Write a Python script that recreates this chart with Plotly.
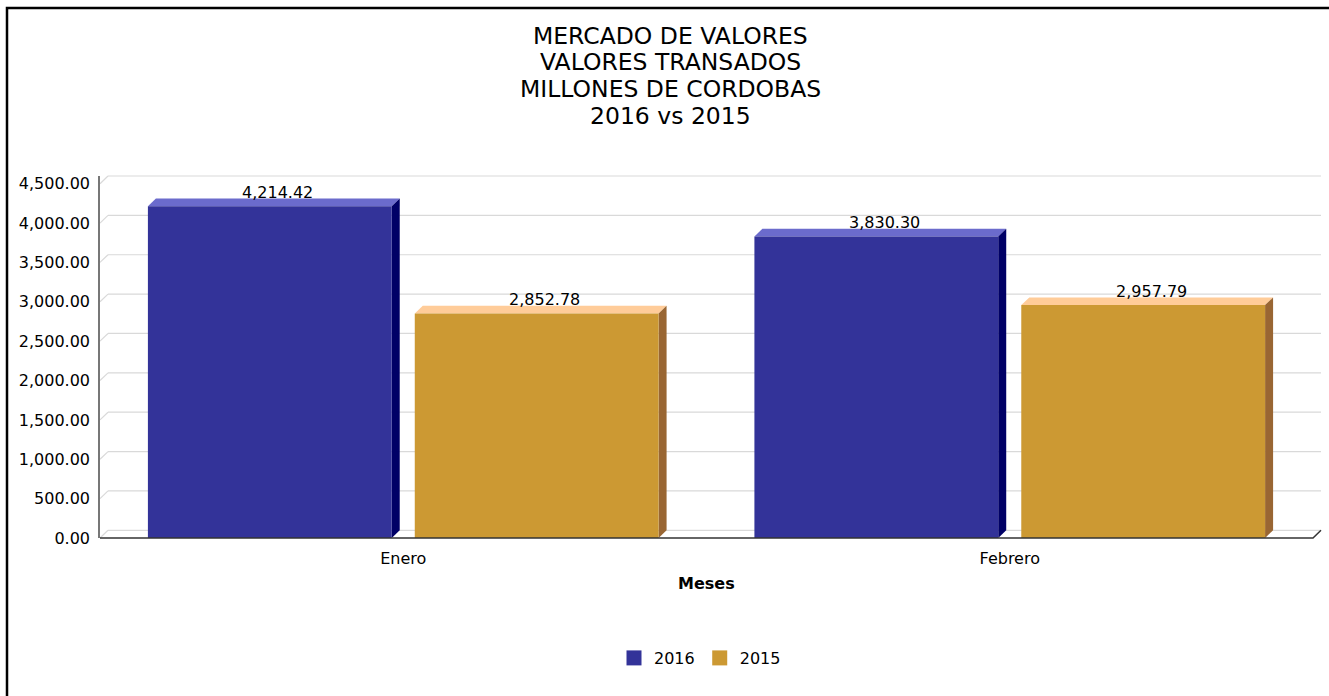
import plotly.graph_objects as go

# ---------------- data ----------------
categories = ["Enero", "Febrero"]
series_names = ["2016", "2015"]
values_2016 = [4214.42, 3830.30]
values_2015 = [2852.78, 2957.79]
y_tickvals = [0, 500, 1000, 1500, 2000, 2500, 3000, 3500, 4000, 4500]
title_lines = ["MERCADO DE VALORES", "VALORES TRANSADOS", "MILLONES DE CORDOBAS", "2016 vs 2015"]
x_title = "Meses"

# ---------------- styling / geometry ----------------
FONT = "DejaVu Sans"
W, H = 1329, 696
ML, MR, MT, MB = 100, 8, 176, 158
PW, PH = W - ML - MR, H - MT - MB
DX_PX, DY_PX = 8.0, 7.7           # 3D depth in pixels
YMAX = 4500
X_SPAN = 2 / (1 - DX_PX / PW)
DX = X_SPAN - 2                   # depth in x data units
Y_SPAN = YMAX / (1 - DY_PX / PH)
DY = Y_SPAN - YMAX                # depth in y data units

BAR_W = 0.402
OFFSETS = [-0.421, 0.019]
FRONT = ["#333399", "#CC9933"]
TOP = ["#6B6BCC", "#FFCC99"]
SIDE = ["#000066", "#996633"]
GRID = "#D9D9D9"


def xp(v):  # x data -> paper
    return (v + 0.5) / X_SPAN


def yp(v):  # y data -> paper
    return v / Y_SPAN


def px_x(p):  # pixel -> paper x
    return (p - ML) / PW


def px_y(p):  # pixel -> paper y
    return (H - MB - p) / PH


series = [values_2016, values_2015]
xs = list(range(len(categories)))

fig = go.Figure()
shapes = []

# back-wall gridlines with left diagonals
for v in y_tickvals:
    shapes.append(dict(type="line", xref="paper", yref="paper",
                       x0=xp(-0.5 + DX), y0=yp(v + DY), x1=xp(1.5 + DX), y1=yp(v + DY),
                       line=dict(color=GRID, width=1.2), layer="below"))
    shapes.append(dict(type="line", xref="paper", yref="paper",
                       x0=xp(-0.5), y0=yp(v), x1=xp(-0.5 + DX), y1=yp(v + DY),
                       line=dict(color=GRID, width=1.2), layer="below"))

for si, vals in enumerate(series):
    fig.add_trace(go.Bar(
        x=xs, y=vals, width=BAR_W, offset=OFFSETS[si],
        marker=dict(color=FRONT[si], line=dict(width=0)),
        showlegend=False, hoverinfo="skip", name=series_names[si]))
    for xi, v in zip(xs, vals):
        x0 = xi + OFFSETS[si]
        x1 = x0 + BAR_W
        top = (f"M{xp(x0)},{yp(v)} L{xp(x0 + DX)},{yp(v + DY)} "
               f"L{xp(x1 + DX)},{yp(v + DY)} L{xp(x1)},{yp(v)} Z")
        side = (f"M{xp(x1)},{yp(0)} L{xp(x1)},{yp(v)} L{xp(x1 + DX)},{yp(v + DY)} "
                f"L{xp(x1 + DX)},{yp(DY)} Z")
        shapes.append(dict(type="path", xref="paper", yref="paper", path=top,
                           fillcolor=TOP[si], line=dict(width=0), layer="below"))
        shapes.append(dict(type="path", xref="paper", yref="paper", path=side,
                           fillcolor=SIDE[si], line=dict(width=0), layer="below"))
        fig.add_annotation(x=xi + OFFSETS[si] + BAR_W / 2 + DX, y=v + DY,
                           xref="x", yref="y", text=f"{v:,.2f}", showarrow=False,
                           yanchor="bottom", yshift=-5.5,
                           font=dict(family=FONT, size=16, color="#000000"))

# legend entries
for si, name in enumerate(series_names):
    fig.add_trace(go.Scatter(x=[None], y=[None], mode="markers", name=name,
                             marker=dict(symbol="square", size=15, color=FRONT[si],
                                         line=dict(width=0))))

# front x-axis line with depth slant
shapes.append(dict(type="path", xref="paper", yref="paper",
                   path=f"M{xp(-0.5)},{yp(0)} L{xp(1.5)},{yp(0)} L{xp(1.5 + DX)},{yp(DY)}",
                   line=dict(color="#333333", width=1.5)))

# outer border
shapes.append(dict(type="rect", xref="paper", yref="paper",
                   x0=px_x(7), y0=px_y(720), x1=px_x(1360), y1=px_y(8),
                   line=dict(color="#000000", width=2.5), fillcolor="rgba(0,0,0,0)"))

# title lines
title_centers = [35.5, 62.3, 89.0, 115.8]
for line, cy in zip(title_lines, title_centers):
    fig.add_annotation(x=px_x(670), y=px_y(cy), xref="paper", yref="paper",
                       text=line, showarrow=False, xanchor="center", yanchor="middle",
                       font=dict(family=FONT, size=23.5, color="#000000"))

fig.add_annotation(x=0.5, xref="x", y=px_y(583), yref="paper", text=f"<b>{x_title}</b>",
                   showarrow=False, xanchor="center", yanchor="middle",
                   font=dict(family=FONT, size=16, color="#000000"))

fig.update_layout(
    width=W, height=H,
    margin=dict(l=ML, r=MR, t=MT, b=MB, pad=0),
    paper_bgcolor="white", plot_bgcolor="white",
    barmode="overlay",
    font=dict(family=FONT, size=16, color="#000000"),
    shapes=shapes,
    showlegend=True,
    legend=dict(orientation="h", x=px_x(614), xanchor="left", y=px_y(658), yanchor="middle",
                font=dict(family=FONT, size=16, color="#000000"),
                bgcolor="rgba(0,0,0,0)", itemclick=False, itemdoubleclick=False),
    xaxis=dict(range=[-0.5, 1.5 + DX], tickmode="array", tickvals=xs, ticktext=categories,
               showgrid=False, zeroline=False, showline=False, ticks="",
               tickfont=dict(family=FONT, size=16, color="#000000"),
               ticklabelstandoff=9, fixedrange=True),
    yaxis=dict(range=[0, Y_SPAN], tickmode="array", tickvals=y_tickvals,
               ticktext=[f"{v:,.2f}" for v in y_tickvals],
               showgrid=False, zeroline=False, showline=True, linecolor="#777777", linewidth=1.5,
               ticks="", tickfont=dict(family=FONT, size=16, color="#000000"),
               ticklabelstandoff=5, fixedrange=True),
)

fig.write_html("out.html", config={"displayModeBar": False},
               post_script="document.body.style.margin='0';")
